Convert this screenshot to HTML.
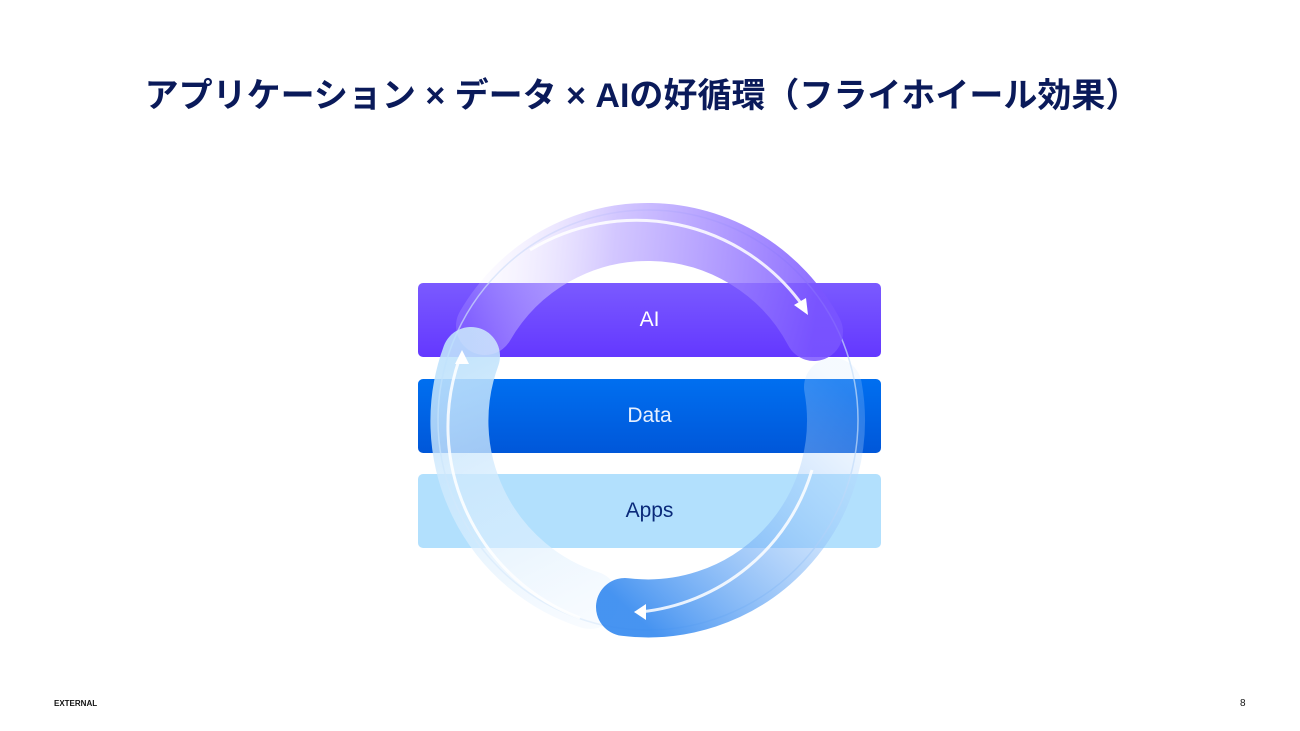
<!DOCTYPE html>
<html><head><meta charset="utf-8"><style>
body{margin:0;width:1300px;height:731px;background:#fff;position:relative;overflow:hidden;font-family:"Liberation Sans","Noto Sans CJK JP",sans-serif}
.t{position:absolute;left:0;width:1284px;top:68px;text-align:center;font-size:34px;font-weight:bold;color:#0a1a5a;letter-spacing:0px}
.bar{position:absolute;left:418px;width:463px;height:74px;border-radius:5px;display:flex;align-items:center;justify-content:center;font-size:21px}
.ft{position:absolute;top:699px;font-size:8px;color:#111;font-weight:bold}
</style></head><body>
<div class="t">アプリケーション × データ × AIの好循環（フライホイール効果）</div>
<div class="bar" style="top:283px;background:linear-gradient(180deg,#7a5aff,#6438ff);color:#fff">AI</div>
<div class="bar" style="top:379px;background:linear-gradient(180deg,#006ff0,#0057d9);color:#e6f0ff">Data</div>
<div class="bar" style="top:474px;background:#b2e0fd;color:#0a2a7a">Apps</div>
<svg width="1300" height="731" style="position:absolute;left:0;top:0">
<defs>
<linearGradient id="gp" gradientUnits="userSpaceOnUse" x1="470" y1="300" x2="814" y2="332"><stop offset="0" stop-color="#f2eeff" stop-opacity=".15"/><stop offset=".4" stop-color="#c4b4ff" stop-opacity=".75"/><stop offset="1" stop-color="#7a55ff" stop-opacity=".85"/></linearGradient>
<linearGradient id="gb" gradientUnits="userSpaceOnUse" x1="836" y1="380" x2="625" y2="607"><stop offset="0" stop-color="#cfe6ff" stop-opacity=".2"/><stop offset="1" stop-color="#3d8ef0" stop-opacity=".95"/></linearGradient>
<linearGradient id="gl" gradientUnits="userSpaceOnUse" x1="600" y1="625" x2="470" y2="356"><stop offset="0" stop-color="#f2f8ff" stop-opacity=".5"/><stop offset="1" stop-color="#bfe2fc" stop-opacity=".9"/></linearGradient>
</defs>
<circle cx="648" cy="420" r="210" fill="none" stroke="#c8def8" stroke-width="1.5" opacity=".7"/>
<path d="M590 600 A188 188 0 0 1 471 356" fill="none" stroke="url(#gl)" stroke-width="58" stroke-linecap="round"/>
<path d="M833 387 A188 188 0 0 1 625 607" fill="none" stroke="url(#gb)" stroke-width="58" stroke-linecap="round"/>
<path d="M485 326 A188 188 0 0 1 814 332" fill="none" stroke="url(#gp)" stroke-width="58" stroke-linecap="round"/>
<g fill="none" stroke="#fff" stroke-width="3" opacity=".85">
<path d="M530 250 A205 205 0 0 1 803 306"/>
<path d="M812 470 A200 200 0 0 1 640 612"/>
<path d="M580 618 A205 205 0 0 1 459 360"/>
</g>
<g fill="#fff">
<polygon points="808,315 794,305 806,298"/>
<polygon points="634,612 646,604 646,620"/>
<polygon points="462,350 455,364 469,364"/>
</g>
</svg>
<div class="ft" style="left:54px">EXTERNAL</div>
<div class="ft" style="left:1240px;font-weight:normal;font-size:10px;top:698px">8</div>
</body></html>
